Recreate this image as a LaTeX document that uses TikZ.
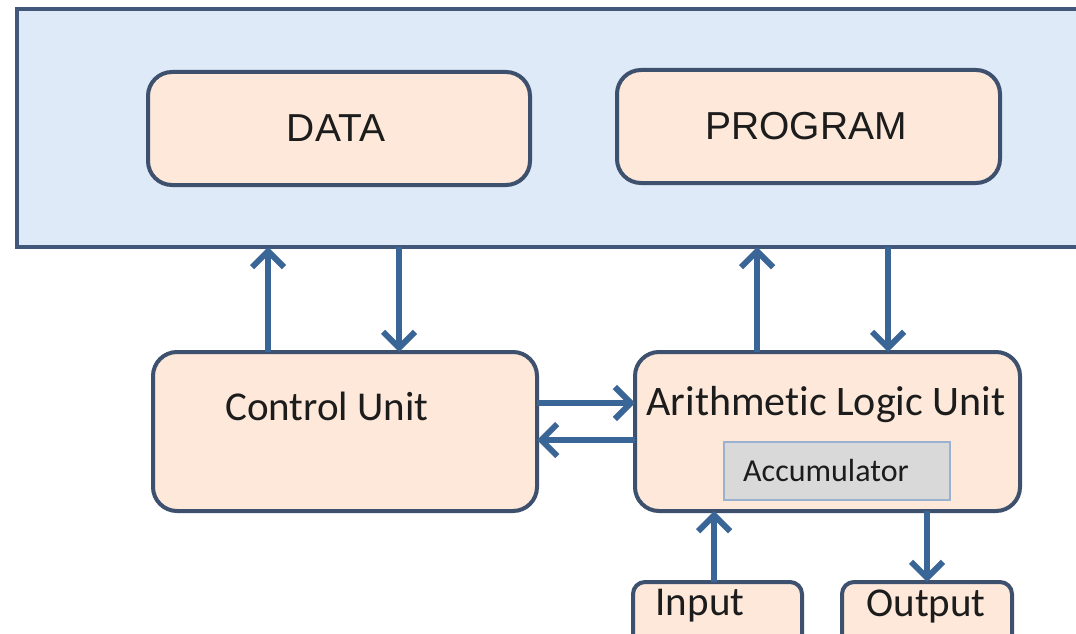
\documentclass[tikz,border=0pt]{standalone}
\usepackage{fontspec}
\usetikzlibrary{arrows.meta}
\newfontfamily\arialfont{Liberation Sans}
\newfontfamily\calfont[Ligatures=NoCommon]{Carlito}
\definecolor{memfill}{HTML}{DEEAF8}
\definecolor{memline}{HTML}{41587A}
\definecolor{unitfill}{HTML}{FDE8DA}
\definecolor{unitline}{HTML}{3D506E}
\definecolor{flow}{HTML}{3A6597}
\definecolor{accfill}{HTML}{D9D9D9}
\definecolor{accline}{HTML}{9AB2D0}
\definecolor{ink}{HTML}{1C1C1C}
\tikzset{
  membox/.style={draw=memline, fill=memfill, line width=4.5pt, outer sep=0pt, inner sep=0pt},
  unitbox/.style={draw=unitline, fill=unitfill, line width=4pt, rounded corners=24pt, outer sep=0pt, inner sep=0pt},
  iobox/.style={draw=unitline, fill=unitfill, line width=4pt, rounded corners=12pt, outer sep=0pt, inner sep=0pt},
  accbox/.style={draw=accline, fill=accfill, line width=1.5pt, outer sep=0pt, inner sep=0pt},
  flowarrow/.style={draw=flow, line width=6pt, -{Straight Barb[length=16pt,width=32pt]}},
  bigtext/.style={text=ink, font=\arialfont\fontsize{39}{45}\selectfont, inner sep=0pt},
  unittext/.style={text=ink, font=\calfont\fontsize{41}{47}\selectfont, inner sep=0pt},
  smalltext/.style={text=ink, font=\calfont\fontsize{32}{38}\selectfont, inner sep=0pt},
}
\begin{document}
\begin{tikzpicture}[x=1pt, y=-1pt]
  \useasboundingbox (0,0) rectangle (1076,634);
  \clip (0,0) rectangle (1076,634);
  \fill[white] (0,0) rectangle (1076,634);

  % memory block holding data and program
  \node[membox, minimum width=1083pt, minimum height=238pt] (mem) at (558.5,128) {};
  \node[unitbox, minimum width=382pt, minimum height=113pt] (data) at (339,128.5) {};
  \node[bigtext] (datatext) at (336,128) {DATA};
  \node[unitbox, minimum width=383pt, minimum height=113pt] (prog) at (808.5,126.5) {};
  \node[bigtext] (progtext) at (806,126) {PROGRAM};

  % processing units
  \node[unitbox, minimum width=384pt, minimum height=159pt] (cu) at (345,431.5) {};
  \node[unittext] (cutext) at (327,406) {Control Unit};
  \node[unitbox, minimum width=385pt, minimum height=159pt] (alu) at (827.5,431.5) {};
  \node[unittext, font=\calfont\fontsize{42}{48}\selectfont] (alutext) at (826,405) {Arithmetic Logic Unit};
  \node[accbox, minimum width=226pt, minimum height=58pt] (acc) at (837,471) {};
  \node[smalltext] (acctext) at (826,471) {Accumulator};

  % input / output
  \node[iobox, minimum width=169pt, minimum height=80pt] (in) at (717.5,622) {};
  \node[unittext] (intext) at (700,606) {Input};
  \node[iobox, minimum width=170pt, minimum height=80pt] (out) at (927,622) {};
  \node[unittext] (outtext) at (926,606) {Output};

  % memory <-> units
  \draw[flowarrow] ([xshift=-77pt]cu.north) -- ([xshift=-77pt]cu.north |- mem.south);
  \draw[flowarrow] ([xshift=54pt]cu.north |- mem.south) -- ([xshift=54pt]cu.north);
  \draw[flowarrow] ([xshift=-70.5pt]alu.north) -- ([xshift=-70.5pt]alu.north |- mem.south);
  \draw[flowarrow] ([xshift=60.5pt]alu.north |- mem.south) -- ([xshift=60.5pt]alu.north);

  % control unit <-> ALU
  \coordinate (rowa) at (0,403);
  \coordinate (rowb) at (0,440);
  \draw[flowarrow] (cu.east |- rowa) -- (alu.west |- rowa);
  \draw[flowarrow] (alu.west |- rowb) -- (cu.east |- rowb);

  % input / output flows
  \draw[flowarrow] ([xshift=-3.5pt]in.north) -- ([xshift=-3.5pt]in.north |- alu.south);
  \draw[flowarrow] (out.north |- alu.south) -- (out.north);
\end{tikzpicture}
\end{document}
